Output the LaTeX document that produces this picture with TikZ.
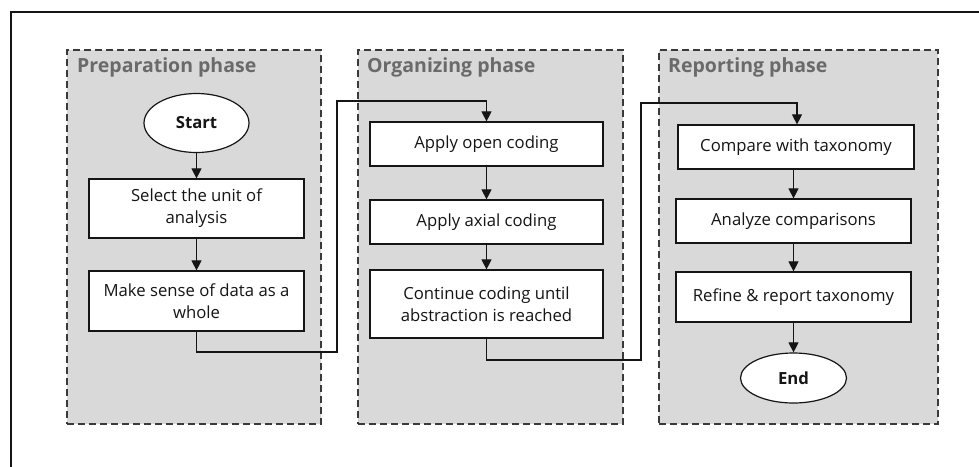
\documentclass[tikz,border=0pt]{standalone}
\usepackage{fontspec}
\setmainfont{Open Sans}
\usetikzlibrary{arrows.meta,shapes.geometric}
\definecolor{panelfill}{HTML}{D9D9D9}
\definecolor{paneledge}{HTML}{3A3A3A}
\definecolor{titlegray}{HTML}{6A6A6A}
\definecolor{ink}{HTML}{151515}
\tikzset{
  phase/.style={draw=paneledge, fill=panelfill, line width=1.4pt,
    dash pattern=on 7pt off 4pt, inner sep=0pt},
  phasetitle/.style={anchor=west, text=titlegray, inner sep=0pt,
    font=\fontsize{19.5}{22}\selectfont\bfseries},
  stepbox/.style={draw=ink, fill=white, line width=1.2pt, align=center,
    text=ink, inner sep=0pt, font=\fontsize{16.7}{22}\selectfont},
  term/.style={ellipse, draw=ink, fill=white, line width=1.2pt,
    text=ink, inner sep=0pt, font=\fontsize{16.7}{20}\selectfont\bfseries},
  flow/.style={draw=ink, line width=1.1pt,
    -{Triangle[length=10pt,width=10pt]}}
}
\begin{document}
\begin{tikzpicture}[x=1pt,y=-1pt]
\useasboundingbox (0,0) rectangle (979,466);
\clip (0,0) rectangle (979,466);
\fill[white] (0,0) rectangle (979,466);
% outer frame
\draw[ink, line width=1.3pt] (11,12) rectangle (990,480);

% phase panels
\node[phase, minimum width=254pt, minimum height=374pt] (p1) at (194,237) {};
\node[phase, minimum width=265pt, minimum height=374pt] (p2) at (490.5,237) {};
\node[phase, minimum width=279pt, minimum height=374pt] (p3) at (798.5,237) {};
\node[phasetitle] (t1) at (77,67) {Preparation phase};
\node[phasetitle] (t2) at (367,67) {Organizing phase};
\node[phasetitle] (t3) at (668,67) {Reporting phase};

% preparation phase
\node[term, minimum width=105pt, minimum height=59pt] (start) at (196.5,123) {Start};
\node[stepbox, minimum width=215pt, minimum height=59pt] (s1) at (196.5,208.5) {Select the unit of\\analysis};
\node[stepbox, minimum width=215pt, minimum height=60pt] (s2) at (196.5,301) {Make sense of data as a\\whole};

% organizing phase
\node[stepbox, minimum width=233pt, minimum height=44pt] (o1) at (486.5,144) {Apply open coding};
\node[stepbox, minimum width=233pt, minimum height=44pt] (o2) at (486.5,222) {Apply axial coding};
\node[stepbox, minimum width=233pt, minimum height=68pt] (o3) at (486.5,304) {Continue coding until\\abstraction is reached};

% reporting phase
\node[stepbox, minimum width=236pt, minimum height=44pt] (r1) at (796,147) {Compare with taxonomy};
\node[stepbox, minimum width=235pt, minimum height=44pt] (r2) at (793.5,221) {Analyze comparisons};
\node[stepbox, minimum width=235pt, minimum height=50pt] (r3) at (793.5,297) {Refine \& report taxonomy};
\node[term, minimum width=106pt, minimum height=50pt] (end) at (793.5,378) {End};

% bends of the links between phases
\coordinate (k1) at (337,352);
\coordinate (k2) at (337,101);
\coordinate (k3) at (641,360);
\coordinate (k4) at (641,103);

% connectors
\draw[flow] (start) -- (s1);
\draw[flow] (s1) -- (s2);
\draw[flow] (s2.south) |- (k1) -- (k2) -| (o1.north);
\draw[flow] (o1) -- (o2);
\draw[flow] (o2) -- (o3);
\draw[flow] (o3.south) |- (k3) -- (k4) -| ([xshift=1pt]r1.north);
\draw[flow] ([xshift=-2.5pt]r1.south) -- (r2);
\draw[flow] (r2) -- (r3);
\draw[flow] (r3) -- (end);
\end{tikzpicture}
\end{document}
